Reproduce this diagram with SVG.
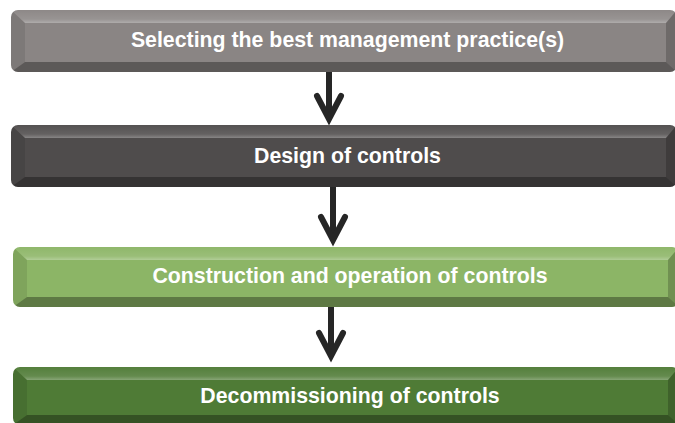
<svg xmlns="http://www.w3.org/2000/svg" width="675" height="423" viewBox="0 0 675 423">
<defs>
<style>
.lbl{font-family:"Liberation Sans",Arial,Helvetica,sans-serif;font-weight:bold;font-size:21.3px;fill:#ffffff;text-anchor:middle}
.tb{fill:url(#hl)}
.lb{fill:#000;fill-opacity:0.09}
.bb{fill:#000;fill-opacity:0.33}
.rb{fill:#000;fill-opacity:0.2}
.conn{stroke:#262626;stroke-width:6;fill:none;marker-end:url(#chev)}
</style>
<linearGradient id="hl" x1="0" y1="0" x2="0" y2="1">
<stop offset="0" stop-color="#fff" stop-opacity="0.03"/>
<stop offset="0.7" stop-color="#fff" stop-opacity="0.12"/>
<stop offset="1" stop-color="#fff" stop-opacity="0.32"/>
</linearGradient>
<marker id="chev" markerUnits="userSpaceOnUse" viewBox="-30 -16 40 32" markerWidth="40" markerHeight="32" refX="0" refY="0" orient="auto" overflow="visible">
<path d="M-23,-12 L0,0 L-23,12" fill="none" stroke="#262626" stroke-width="6" stroke-linecap="round" stroke-linejoin="miter"/>
</marker>
<clipPath id="c1"><rect x="11" y="10" width="666" height="62" rx="7"/></clipPath>
<clipPath id="c2"><rect x="11" y="125" width="666" height="62" rx="7"/></clipPath>
<clipPath id="c3"><rect x="13" y="247" width="666" height="60" rx="7"/></clipPath>
<clipPath id="c4"><rect x="13" y="367" width="666" height="58" rx="7"/></clipPath>
</defs>

<g id="connectors">
<path class="conn" d="M329,72 L329,119"/>
<path class="conn" d="M333,187 L333,240"/>
<path class="conn" d="M331,307 L331,356"/>
</g>

<g id="node1" clip-path="url(#c1)">
<rect x="11" y="10" width="666" height="62" fill="#8a8584"/>
<polygon class="tb" points="11,10 677,10 666,23 25,23"/>
<polygon class="lb" points="11,10 25,23 25,62 11,72"/>
<polygon class="bb" points="11,72 25,62 666,62 677,72"/>
<polygon class="rb" points="677,10 666,23 666,62 677,72"/>
<text class="lbl" x="347.5" y="47">Selecting the best management practice(s)</text>
</g>

<g id="node2" clip-path="url(#c2)">
<rect x="11" y="125" width="666" height="62" fill="#4f4c4c"/>
<polygon class="tb" points="11,125 677,125 666,138 25,138"/>
<polygon class="lb" points="11,125 25,138 25,177 11,187"/>
<polygon class="bb" points="11,187 25,177 666,177 677,187"/>
<polygon class="rb" points="677,125 666,138 666,177 677,187"/>
<text class="lbl" x="347.5" y="163">Design of controls</text>
</g>

<g id="node3" clip-path="url(#c3)">
<rect x="13" y="247" width="666" height="60" fill="#8cb566"/>
<polygon class="tb" points="13,247 679,247 668,260 27,260"/>
<polygon class="lb" points="13,247 27,260 27,297 13,307"/>
<polygon class="bb" points="13,307 27,297 668,297 679,307"/>
<polygon class="rb" points="679,247 668,260 668,297 679,307"/>
<text class="lbl" x="350" y="283">Construction and operation of controls</text>
</g>

<g id="node4" clip-path="url(#c4)">
<rect x="13" y="367" width="666" height="58" fill="#4f7b36"/>
<polygon class="tb" points="13,367 679,367 668,380 27,380"/>
<polygon class="lb" points="13,367 27,380 27,415 13,425"/>
<polygon class="bb" points="13,425 27,415 668,415 679,425"/>
<polygon class="rb" points="679,367 668,380 668,415 679,425"/>
<text class="lbl" x="350" y="403">Decommissioning of controls</text>
</g>
</svg>
